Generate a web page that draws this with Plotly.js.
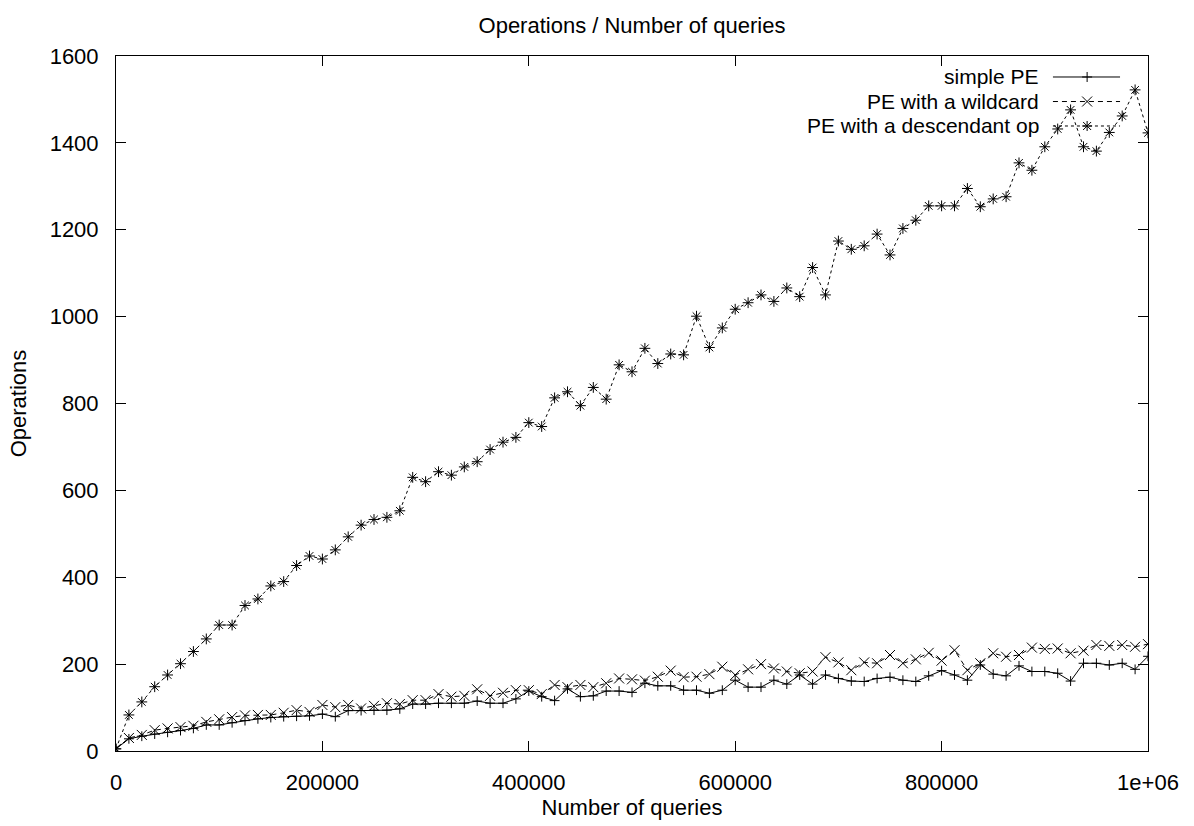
<!DOCTYPE html>
<html>
<head>
<meta charset="utf-8">
<script src="https://cdn.plot.ly/plotly-3.0.1.min.js"></script>
<style>html,body{margin:0;padding:0;background:#fff;}#chart{width:1194px;height:826px;}</style>
</head>
<body>
<div id="chart"></div>
<script>
var queries = [0,12500,25000,37500,50000,62500,75000,87500,100000,112500,125000,137500,150000,162500,175000,187500,200000,212500,225000,237500,250000,262500,275000,287500,300000,312500,325000,337500,350000,362500,375000,387500,400000,412500,425000,437500,450000,462500,475000,487500,500000,512500,525000,537500,550000,562500,575000,587500,600000,612500,625000,637500,650000,662500,675000,687500,700000,712500,725000,737500,750000,762500,775000,787500,800000,812500,825000,837500,850000,862500,875000,887500,900000,912500,925000,937500,950000,962500,975000,987500,1000000];

var simplePE = [5,28,34,39,43,47,52,60,60,65,70,74,77,79,80,81,85,79,93,93,94,94,97,108,108,110,110,110,115,110,110,120,138,125,116,143,125,127,138,138,135,156,150,150,140,140,133,140,163,147,147,163,154,175,154,175,167,161,160,167,170,163,160,173,185,175,163,198,177,173,196,183,183,179,161,202,202,198,202,188,218];

var wildcardPE = [5,30,37,48,52,55,58,67,73,78,82,83,83,88,94,90,106,101,106,98,104,110,108,117,117,131,125,127,142,127,134,140,140,131,152,147,152,147,156,167,165,162,171,185,170,171,177,194,175,188,200,190,183,179,183,216,204,186,204,202,221,202,211,226,208,232,186,202,225,217,221,238,235,236,225,231,244,242,244,240,246];

var descendantPE = [5,83,113,148,175,201,229,258,290,290,335,350,380,390,427,449,442,463,493,520,533,538,553,630,620,643,635,654,666,694,711,722,756,747,813,827,795,837,810,889,873,927,892,914,912,1001,929,974,1017,1032,1050,1035,1066,1046,1113,1050,1174,1155,1163,1190,1142,1203,1222,1255,1255,1255,1295,1253,1271,1276,1354,1337,1391,1432,1476,1391,1381,1424,1462,1522,1423];

var seriesNames = ['simple PE', 'PE with a wildcard', 'PE with a descendant op'];
var xTickVals = [0, 200000, 400000, 600000, 800000, 1000000];
var xTickText = ['0', '200000', '400000', '600000', '800000', '1e+06'];
var yTickVals = [0, 200, 400, 600, 800, 1000, 1200, 1400, 1600];

var FONT = 'Liberation Sans, Arial, Helvetica, sans-serif';
var FS = 22;
var DASHES = ['solid', '5px,4px', '3px,3px'];

var traces = [
  {x: queries, y: simplePE, name: seriesNames[0], mode: 'lines+markers',
   line: {color: '#000', width: 1, dash: DASHES[0]},
   marker: {symbol: 'cross-thin-open', size: 7, color: '#000', line: {color: '#000', width: 1}}},
  {x: queries, y: wildcardPE, name: seriesNames[1], mode: 'lines+markers',
   line: {color: '#000', width: 1, dash: DASHES[1]},
   marker: {symbol: 'x-thin-open', size: 10, color: '#000', line: {color: '#000', width: 1}}},
  {x: queries, y: descendantPE, name: seriesNames[2], mode: 'lines+markers',
   line: {color: '#000', width: 1, dash: DASHES[2]},
   marker: {symbol: 'asterisk-open', size: 9, color: '#000', line: {color: '#000', width: 1}}}
];

// custom gnuplot-style key (text on the left, sample on the right)
var keyRowsY = [0.9698, 0.9345, 0.8993];
var keyTextX = 0.8955, keyLineX0 = 0.9079, keyLineX1 = 0.9729, keyMarkX = 0.9410;
var glyphPaths = [
  'M-5,0L5,0M0,-5L0,5',
  'M-5,-5L5,5M-5,5L5,-5',
  'M-5,0L5,0M0,-5L0,5M-4,-4L4,4M-4,4L4,-4'
];
var annotations = [], shapes = [];
for (var k = 0; k < 3; k++) {
  annotations.push({xref: 'paper', yref: 'paper', x: keyTextX, y: keyRowsY[k],
    xanchor: 'right', yanchor: 'middle', showarrow: false, text: seriesNames[k],
    borderpad: 0, font: {family: FONT, size: 21, color: '#000'}});
  shapes.push({type: 'line', xref: 'paper', yref: 'paper', x0: keyLineX0, x1: keyLineX1,
    y0: keyRowsY[k], y1: keyRowsY[k], line: {color: '#000', width: 1, dash: DASHES[k]}});
  shapes.push({type: 'path', xref: 'paper', yref: 'paper', xsizemode: 'pixel', ysizemode: 'pixel',
    xanchor: keyMarkX, yanchor: keyRowsY[k], path: glyphPaths[k], line: {color: '#000', width: 1}});
}

var layout = {
  width: 1194, height: 826,
  paper_bgcolor: '#fff', plot_bgcolor: '#fff',
  font: {family: FONT, size: FS, color: '#000'},
  margin: {l: 116, r: 46, t: 56, b: 75, pad: 0},
  showlegend: false,
  title: {text: 'Operations / Number of queries', font: {family: FONT, size: FS, color: '#000'},
          x: 0.5, xref: 'paper', xanchor: 'center', y: 1 - 25/826, yref: 'container', yanchor: 'middle'},
  xaxis: {range: [0, 1000000], tickmode: 'array', tickvals: xTickVals, ticktext: xTickText,
          ticks: 'inside', ticklen: 10, tickwidth: 1, tickcolor: '#000',
          showline: true, linecolor: '#000', linewidth: 1, mirror: 'allticks',
          showgrid: false, zeroline: false, ticklabelstandoff: 12,
          tickfont: {family: FONT, size: FS, color: '#000'},
          title: {text: 'Number of queries', standoff: 0, font: {family: FONT, size: FS, color: '#000'}}},
  yaxis: {range: [0, 1600], tickmode: 'array', tickvals: yTickVals,
          ticks: 'inside', ticklen: 10, tickwidth: 1, tickcolor: '#000',
          showline: true, linecolor: '#000', linewidth: 1, mirror: 'allticks',
          showgrid: false, zeroline: false, ticklabelstandoff: 12,
          tickfont: {family: FONT, size: FS, color: '#000'},
          title: {text: 'Operations', standoff: 16, font: {family: FONT, size: FS, color: '#000'}}},
  annotations: annotations,
  shapes: shapes
};

Plotly.newPlot('chart', traces, layout, {displayModeBar: false, staticPlot: true});
</script>
</body>
</html>
